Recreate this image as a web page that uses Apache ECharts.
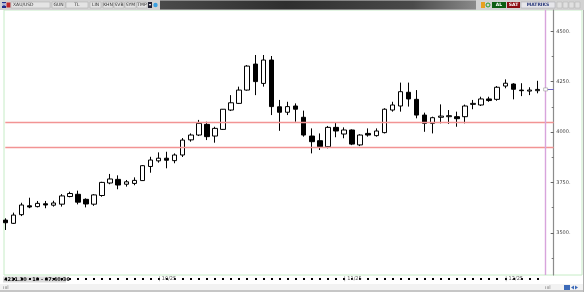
<!DOCTYPE html>
<html>
<head>
<meta charset="utf-8">
<script src="https://cdn.jsdelivr.net/npm/echarts@6/dist/echarts.min.js"></script>
<style>html,body{margin:0;padding:0;background:#fff}#c{width:584px;height:292px}</style>
</head>
<body>
<div id="c"></div>
<script>
// ---- data ----
const dates = [
 '2025-09-04','2025-09-05','2025-09-08','2025-09-09','2025-09-10','2025-09-11','2025-09-12','2025-09-15','2025-09-16','2025-09-17',
 '2025-09-18','2025-09-19','2025-09-22','2025-09-23','2025-09-24','2025-09-25','2025-09-26','2025-09-29','2025-09-30',
 '2025-10-01','2025-10-02','2025-10-03','2025-10-06','2025-10-07','2025-10-08','2025-10-09','2025-10-10','2025-10-13','2025-10-14',
 '2025-10-15','2025-10-16','2025-10-17','2025-10-20','2025-10-21','2025-10-22','2025-10-23','2025-10-24','2025-10-27','2025-10-28',
 '2025-10-29','2025-10-30','2025-10-31',
 '2025-11-03','2025-11-04','2025-11-05','2025-11-06','2025-11-07','2025-11-10','2025-11-11','2025-11-12','2025-11-13','2025-11-14',
 '2025-11-17','2025-11-18','2025-11-19','2025-11-20','2025-11-21','2025-11-24','2025-11-25','2025-11-26','2025-11-27','2025-11-28',
 '2025-12-01','2025-12-02','2025-12-03','2025-12-04','2025-12-05'
];
const futureSlots = ['2025-12-08','2025-12-09'];
const opens  = [3563,3547,3590,3634,3630,3644,3637,3642,3680,3691,3666,3642,3685,3747,3765,3741,3745,3759,3829,3857,
                3870,3858,3886,3961,3985,4038,3980,4013,4109,4142,4208,4337,4241,4357,4125,4098,4129,4073,3980,3957,
                3927,4023,3990,4010,3936,3993,3982,3997,4109,4129,4197,4162,4084,4043,4073,4076,4076,4076,4137,4134,
                4164,4162,4228,4238,4208,4203,4205];
const closes = [3550,3588,3638,3628,3646,3638,3648,3683,3695,3652,3643,3688,3750,3767,3737,3753,3760,3833,3861,3870,
                3860,3886,3960,3985,4043,3977,4018,4113,4145,4208,4327,4250,4357,4126,4098,4126,4113,3985,3952,3927,
                4023,4005,4010,3940,3985,3985,4005,4113,4134,4200,4164,4084,4043,4071,4079,4081,4066,4129,4142,4164,
                4156,4222,4242,4212,4205,4208,4211.3];
const lows   = [3514,3544,3583,3622,3626,3622,3630,3630,3676,3641,3626,3634,3679,3741,3716,3729,3736,3757,3798,3848,
                3820,3845,3876,3952,3980,3960,3947,4010,4104,4139,4205,4183,4225,4084,4006,4084,4051,3977,3894,3911,
                3919,3974,3969,3935,3930,3977,3977,3993,4101,4101,4126,4068,4001,3993,4043,4040,4026,4043,4113,4129,
                4150,4155,4217,4162,4178,4183,4192];
const highs  = [3572,3600,3649,3674,3658,3658,3659,3692,3704,3709,3671,3692,3753,3792,3785,3762,3775,3836,3877,3899,
                3902,3894,3970,3993,4060,4051,4026,4114,4183,4225,4332,4382,4382,4377,4159,4150,4142,4106,4018,3993,
                4030,4046,4023,4013,3989,4018,4018,4118,4150,4245,4245,4208,4096,4076,4137,4109,4101,4136,4159,4175,
                4175,4228,4261,4242,4242,4222,4254];
const majorTicks = [3500,3750,4000,4250,4500];
const minorTicks = [3375,3625,3875,4125,4375];
const levelLines = [4050,3926];
const lastPrice = 4211.30;
const infoText = '4211.30 - 10 - 07:40:36';
const toolItems = [['XAU/USD',11,50],['GUN',52,65],['TL',66,88],['LIN',90,101],['KHN',103,113],['SVB',114,124],['SYM',125,136],['TMP',137,147]];

// ---- build ----
const cats = dates.concat(futureSlots);
const ohlc = dates.map((d,i)=>[opens[i],closes[i],lows[i],highs[i]]);
const monthStart = cats.map((d,i)=> i>0 && i<dates.length && d.slice(5,7)!==cats[i-1].slice(5,7));

const YMIN = 3290.7, YMAX = 4605.2;
const font = 'DejaVu Sans, Verdana, sans-serif';

const graphics = [
  {type:'rect', shape:{x:0,y:0,width:584,height:10}, style:{fill:'#d2d2d2'}, silent:true},
  {type:'rect', shape:{x:160,y:0.5,width:316,height:9}, style:{fill:new echarts.graphic.LinearGradient(0,0,1,0,[
    {offset:0,color:'#4a4a4a'},{offset:0.4,color:'#2e2e2e'},{offset:0.8,color:'#4a4a4a'},{offset:1,color:'#8a8a8a'}])}, silent:true},
  {type:'rect', shape:{x:2,y:2,width:4,height:6}, style:{fill:'#1d2d8c'}},
  {type:'text', style:{x:4,y:5,text:'M',fontSize:4,fontWeight:'bold',fill:'#fff',align:'center',verticalAlign:'middle',fontFamily:font}},
  {type:'rect', shape:{x:6.5,y:2.5,width:4,height:5}, style:{fill:'#c0282c'}},
  {type:'rect', shape:{x:148,y:2,width:4,height:6}, style:{fill:'#223'}},
  {type:'polygon', shape:{points:[[148.8,4],[151.2,4],[150,6]]}, style:{fill:'#fff'}},
  {type:'circle', shape:{cx:155.5,cy:5,r:2.2}, style:{fill:'#3aa0e0'}},
  {type:'rect', shape:{x:481,y:2,width:4,height:6}, style:{fill:'#e8a020'}},
  {type:'circle', shape:{cx:488,cy:5,r:2}, style:{fill:'none',stroke:'#2a9a2a',lineWidth:1}},
  {type:'rect', shape:{x:492,y:2,width:14,height:6}, style:{fill:'#0d5e12'}},
  {type:'text', style:{x:499,y:5,text:'AL',fontSize:4.5,fontWeight:'bold',fill:'#fff',align:'center',verticalAlign:'middle',fontFamily:font}},
  {type:'rect', shape:{x:507,y:2,width:13,height:6}, style:{fill:'#8c0c12'}},
  {type:'text', style:{x:513.5,y:5,text:'SAT',fontSize:4.5,fontWeight:'bold',fill:'#fff',align:'center',verticalAlign:'middle',fontFamily:font}},
  {type:'rect', shape:{x:521,y:2,width:34,height:6}, style:{fill:'#e6e6ea',stroke:'#a0a0a8',lineWidth:0.5}},
  {type:'text', style:{x:538,y:5,text:'MATRIKS',fontSize:4.5,fontWeight:'bold',fill:'#2a3a7a',align:'center',verticalAlign:'middle',fontFamily:font}},
  {type:'rect', shape:{x:4,y:10,width:578,height:265}, style:{fill:'none',stroke:'#c6ecc6',lineWidth:1}, silent:true, z:-1},
  {type:'rect', shape:{x:3,y:276.5,width:63,height:6}, style:{fill:'#dcdcdc'}},
  {type:'text', style:{x:4,y:279.6,text:infoText,fontSize:5,fontWeight:'bold',fill:'#111',verticalAlign:'middle',fontFamily:font}},
  {type:'rect', shape:{x:0,y:284,width:584,height:8}, style:{fill:'#f2f2f2'}},
  {type:'line', shape:{x1:0,y1:291,x2:584,y2:291}, style:{stroke:'#9a9a9a',lineWidth:1}},
  {type:'line', shape:{x1:583.5,y1:10,x2:583.5,y2:292}, style:{stroke:'#b0b0b0',lineWidth:1}},
  {type:'text', style:{x:3,y:287.5,text:'ıııl',fontSize:5,fill:'#777',verticalAlign:'middle',fontFamily:font}},
  {type:'text', style:{x:545,y:287.5,text:'ıııl',fontSize:5,fill:'#777',verticalAlign:'middle',fontFamily:font}},
  {type:'rect', shape:{x:564,y:285,width:6,height:5}, style:{fill:'#3c6ab8'}},
  {type:'polygon', shape:{points:[[571,287.5],[574,285.5],[574,289.5]]}, style:{fill:'#3c6ab8'}},
  {type:'polygon', shape:{points:[[578,287.5],[575,285.5],[575,289.5]]}, style:{fill:'#3c6ab8'}}
];
toolItems.forEach(t=>{
  graphics.push({type:'rect', shape:{x:t[1],y:2,width:t[2]-t[1],height:6}, style:{fill:'#e4e4e4',stroke:'#a8a8a8',lineWidth:0.5}});
  graphics.push({type:'text', style:{x:t[0]==='XAU/USD'?13:(t[1]+t[2])/2,y:5,text:t[0],fontSize:4.5,fill:'#333',
    align:t[0]==='XAU/USD'?'left':'center',verticalAlign:'middle',fontFamily:font}});
});
[557,563,569,575].forEach(x=>graphics.push({type:'rect', shape:{x:x,y:2,width:5,height:6}, style:{fill:'#e0e0e0',stroke:'#b0b0b0',lineWidth:0.5}}));

function refSeries(item, color, w){
  return {type:'line', data:[], silent:true, z:3,
    markLine:{silent:true, symbol:'none', label:{show:false}, animation:false,
      lineStyle:{color:color, width:w, type:'solid', opacity:1}, data:[item]}};
}

const option = {
  animation:false,
  backgroundColor:'#fff',
  grid:{left:5.3, right:30.3, top:10, bottom:17, containLabel:false},
  xAxis:{
    type:'category', data:cats, boundaryGap:false, offset:3,
    axisLine:{show:false},
    axisTick:{show:true, interval:(i)=>i<dates.length, length:2, lineStyle:{color:'#000',width:2}},
    axisLabel:{show:true, interval:(i)=>monthStart[i], margin:-1.5, align:'left', fontSize:5, color:'#555', fontFamily:font,
      formatter:(v)=> '| ' + v.slice(5,7) + '/' + v.slice(2,4)},
    splitLine:{show:false}
  },
  yAxis:[{
    type:'value', position:'right', min:YMIN, max:YMAX, scale:true,
    axisLine:{show:true, lineStyle:{color:'#8c8c8c', width:1.2}},
    axisTick:{show:true, customValues:majorTicks, inside:true, length:3, lineStyle:{color:'#666'}},
    axisLabel:{show:true, customValues:majorTicks, margin:2.5, fontSize:5, color:'#444', fontFamily:font, formatter:(v)=>v+'.'},
    splitLine:{show:false}
  },{
    type:'value', position:'right', min:YMIN, max:YMAX, scale:true,
    axisLine:{show:false},
    axisTick:{show:true, customValues:minorTicks, inside:true, length:2, lineStyle:{color:'#777'}},
    axisLabel:{show:false}, splitLine:{show:false}
  }],
  series:[{
    type:'candlestick', data:ohlc, barWidth:5, clip:true, z:4,
    itemStyle:{color:'#fff', color0:'#000', borderColor:'#000', borderColor0:'#000', borderWidth:1},
    markPoint:{
      silent:true, label:{show:false}, animation:false,
      data:[{coord:[dates.length, lastPrice], symbol:'rect', symbolSize:[4,3], itemStyle:{color:'#fff', borderColor:'#888', borderWidth:0.5}}]
    }
  },
  refSeries({yAxis:levelLines[0]}, '#f29494', 1.4),
  refSeries({yAxis:levelLines[1]}, '#f29494', 1.4),
  refSeries({xAxis:dates.length}, '#d8a4dc', 1.4),
  refSeries([{coord:[dates.length, lastPrice]},{coord:[dates.length+1, lastPrice]}], '#6d62c4', 1)
  ],
  graphic:graphics
};
const chart = echarts.init(document.getElementById('c'), null, {renderer:'canvas'});
chart.setOption(option);
</script>
</body>
</html>
